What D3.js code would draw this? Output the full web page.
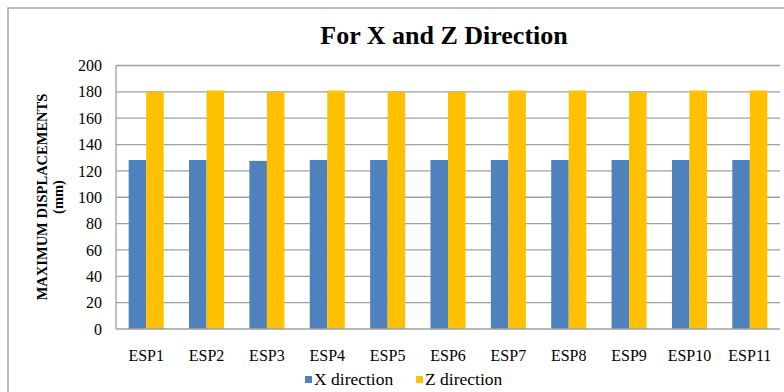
<!DOCTYPE html>
<html><head><meta charset="utf-8">
<script src="https://cdn.jsdelivr.net/npm/d3@7"></script>
<style>body{margin:0;background:#fff}svg{display:block}
svg text{font-family:"Liberation Serif",LiberationSerif,"DejaVu Serif","Noto Serif",FreeSerif,Tinos,"Times New Roman",Times,serif;}
</style>
</head><body>
<script>
const categories = ["ESP1","ESP2","ESP3","ESP4","ESP5","ESP6","ESP7","ESP8","ESP9","ESP10","ESP11"];
const xDirection = [128.3,128.3,127.6,128.3,128.3,128.3,128.3,128.3,128.3,128.3,128.3];
const zDirection = [180,181,180,181,180,180,181,181,180,181,181];
const seriesNames = ["X direction","Z direction"];
const yTicks = [0,20,40,60,80,100,120,140,160,180,200];

const W = 784, H = 392;
const m = {left:116, right:4, top:65.5, bottom:63};
const svg = d3.select("body").append("svg").attr("width",W).attr("height",H);

// outer chart border
svg.append("rect").attr("x",8).attr("y",8).attr("width",W+20).attr("height",H+20)
  .attr("fill","none").attr("stroke","#a6a6a6").attr("stroke-width",1.5);

const x = d3.scaleBand().domain(categories).range([m.left, W-m.right]).paddingInner(0).paddingOuter(0);
const y = d3.scaleLinear().domain([0,200]).range([H-m.bottom, m.top]);

// gridlines
svg.append("g").selectAll("line").data(yTicks.filter(d=>d>0)).join("line")
  .attr("x1",m.left).attr("x2",W-m.right)
  .attr("y1",d=>y(d)).attr("y2",d=>y(d))
  .attr("stroke","#a0a0a0").attr("stroke-width",1.3);

const bw = x.bandwidth()*0.29;
const series = [xDirection, zDirection];
const colors = ["#4F81BD","#FFC000"];
series.forEach((s,si)=>{
  svg.append("g").selectAll("rect").data(s).join("rect")
    .attr("x",(d,i)=>x(categories[i]) + x.bandwidth()/2 - bw + si*bw)
    .attr("width",bw)
    .attr("y",d=>y(d)).attr("height",d=>y(0)-y(d))
    .attr("fill",colors[si]);
});

// axes lines
svg.append("line").attr("x1",m.left).attr("x2",m.left).attr("y1",m.top).attr("y2",y(0))
  .attr("stroke","#a0a0a0").attr("stroke-width",1.3);
svg.append("line").attr("x1",m.left).attr("x2",W-m.right).attr("y1",y(0)).attr("y2",y(0))
  .attr("stroke","#a0a0a0").attr("stroke-width",1.3);

// y tick labels
svg.append("g").selectAll("text").data(yTicks).join("text")
  .attr("x",102).attr("y",d=>y(d)).attr("dy","0.35em")
  .attr("text-anchor","end").attr("font-size",16)
  .text(d=>d);

// x labels
svg.append("g").selectAll("text").data(categories).join("text")
  .attr("x",d=>x(d)+x.bandwidth()/2).attr("y",361)
  .attr("text-anchor","middle").attr("font-size",16)
  .text(d=>d);

// title
svg.append("text").attr("x",444).attr("y",44).attr("text-anchor","middle")
  .attr("font-size",26).attr("font-weight","bold")
  .text("For X and Z Direction");

// y axis title
const yt = svg.append("text").attr("transform","translate(0,197) rotate(-90)")
  .attr("text-anchor","middle").attr("font-size",14.5).attr("font-weight","bold");
yt.append("tspan").attr("x",0).attr("y",47).text("MAXIMUM DISPLACEMENTS");
yt.append("tspan").attr("x",0).attr("y",63).text("(mm)");

// legend
const lx = [305, 416];
seriesNames.forEach((n,i)=>{
  svg.append("rect").attr("x",lx[i]).attr("y",376).attr("width",7).attr("height",7).attr("fill",colors[i]);
  svg.append("text").attr("x",lx[i]+9).attr("y",384.5).attr("font-size",17.5).text(n);
});
</script>
</body></html>
